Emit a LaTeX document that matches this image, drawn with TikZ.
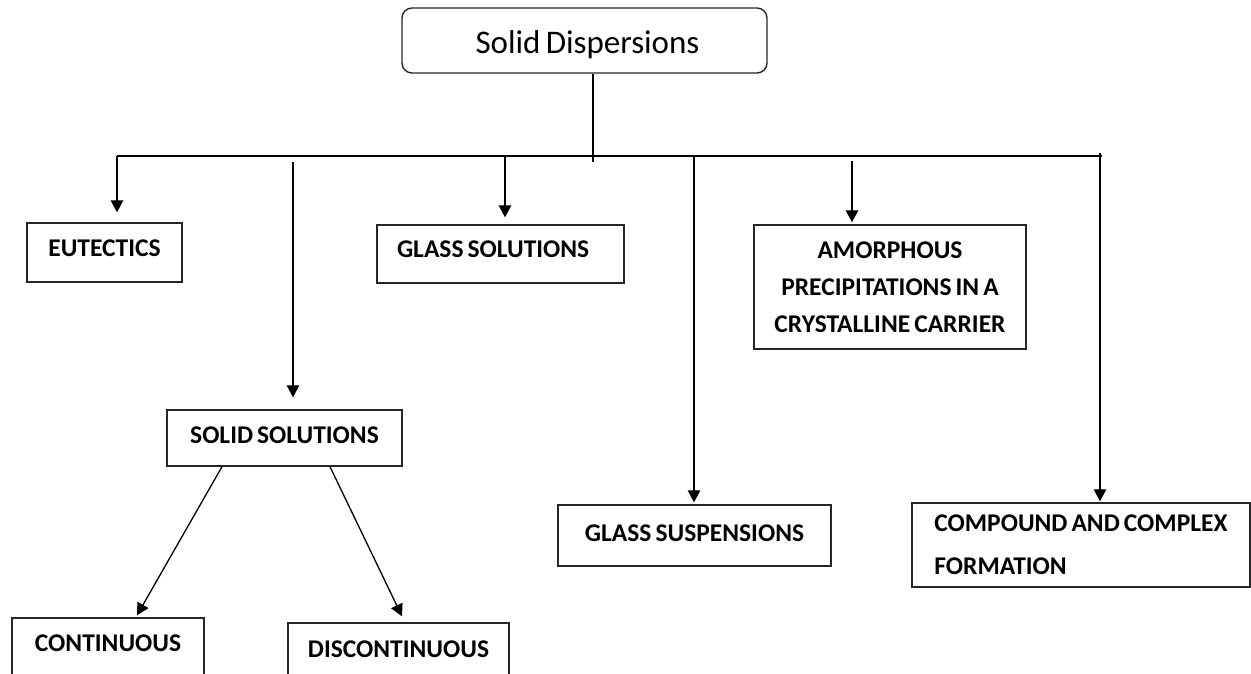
\documentclass[tikz,border=0pt]{standalone}
\usepackage{fontspec}
\setmainfont{Carlito}[WordSpace=0.7]
\usetikzlibrary{arrows.meta,calc}
\begin{document}
\begin{tikzpicture}[x=1pt,y=-1pt,
  box/.style={draw=black!85,line width=1.4pt,inner sep=0pt,font=\fontsize{25.5}{37}\selectfont\bfseries},
  capht/.style={text height=16.4pt},
  arr/.style={line width=1.3pt,-{Triangle[width=12.5pt,length=12pt]}},
  ln/.style={line width=1.3pt}]
\useasboundingbox (0,0) rectangle (1251,673);
\clip (0,0) rectangle (1251,673);
% nodes
\node[box,rounded corners=10pt,minimum width=365pt,minimum height=65pt,font=\fontsize{33}{40}\selectfont,text height=26pt,text depth=0pt] (top) at (584.5,40.5) {\hspace*{6pt}Solid Dispersions};
\node[box,capht,minimum width=155pt,minimum height=59pt,text depth=8pt] (eut) at (104.5,252.5) {EUTECTICS};
\node[box,capht,minimum width=247pt,minimum height=58pt,text depth=9pt] (gsol) at (500.5,254) {\makebox[207pt][l]{GLASS SOLUTIONS}};
\node[box,minimum width=272pt,minimum height=124pt,align=center] (amor) at (890,287) {AMORPHOUS\\PRECIPITATIONS IN A\\CRYSTALLINE CARRIER};
\node[box,capht,minimum width=235pt,minimum height=56pt,text depth=5pt] (ss) at (284.5,438) {SOLID SOLUTIONS};
\node[box,capht,minimum width=273pt,minimum height=61pt,text depth=4pt] (gsu) at (694.5,535.5) {GLASS SUSPENSIONS};
\node[box,minimum width=338pt,minimum height=84pt,align=left,font=\fontsize{25.5}{43}\selectfont\bfseries] (cc) at (1081,545) {COMPOUND AND COMPLEX\\FORMATION};
\node[box,capht,minimum width=192pt,minimum height=60pt,text depth=10pt] (cont) at (108,648) {CONTINUOUS};
\node[box,capht,minimum width=221pt,minimum height=60pt,text depth=8pt] (disc) at (398.5,653) {DISCONTINUOUS};
% coordinates
\coordinate (stem) at (593,162);
\coordinate (busL) at (117,156);
\coordinate (busR) at (1102,156);
\coordinate (s2) at (293,162);
\coordinate (s3) at (505,156);
\coordinate (s4) at (694,156);
\coordinate (s5) at (852,161);
\coordinate (s6) at (1100,153);
% connectors
\draw[ln] (stem |- top.south) -- (stem);
\draw[ln] (busL) -- (busR);
\draw[arr,shorten >=10pt] (busL) -- (busL |- eut.north);
\draw[arr,shorten >=12pt] (s2) -- (s2 |- ss.north);
\draw[arr,shorten >=7pt] (s3) -- (s3 |- gsol.north);
\draw[arr,shorten >=2pt] (s4) -- (s4 |- gsu.north);
\draw[arr,shorten >=2pt] (s5) -- (s5 |- amor.north);
\draw[arr,shorten >=1pt] (s6) -- (s6 |- cc.north);
\draw[arr] ($(ss.south)+(-62.5,0)$) -- ($(cont.north)+(29,-2)$);
\draw[arr] ($(ss.south)+(45.5,0)$) -- ($(disc.north)+(3.5,-6)$);
\end{tikzpicture}
\end{document}
